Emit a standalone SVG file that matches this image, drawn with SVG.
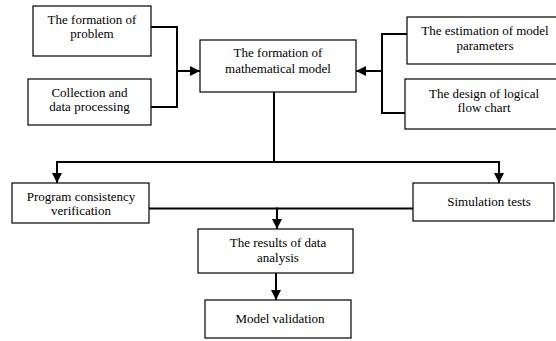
<svg xmlns="http://www.w3.org/2000/svg" width="556" height="341" viewBox="0 0 556 341">
<style>
.box{fill:#fff;stroke:#000;stroke-width:1.2}
.c{fill:none;stroke:#000;stroke-width:2}
</style>
<defs>
<marker id="ah" viewBox="0 0 10 10" refX="10" refY="5" markerWidth="10" markerHeight="10" markerUnits="userSpaceOnUse" orient="auto">
<path d="M0,0 L10,5 L0,10 z" fill="#000"/>
</marker>
</defs>
<rect width="556" height="341" fill="#fff"/>
<g id="connectors">
<polyline class="c" points="151,27 177,27 177,107 151,107"/>
<line class="c" x1="177" y1="71" x2="200" y2="71" marker-end="url(#ah)"/>
<polyline class="c" points="407,34 382,34 382,113 405,113"/>
<line class="c" x1="382" y1="71" x2="356" y2="71" marker-end="url(#ah)"/>
<line class="c" x1="274" y1="92" x2="274" y2="162"/>
<polyline class="c" points="57,162 499,162"/>
<line class="c" x1="57" y1="161" x2="57" y2="183" marker-end="url(#ah)"/>
<line class="c" x1="499" y1="161" x2="499" y2="183" marker-end="url(#ah)"/>
<line class="c" x1="149" y1="208.5" x2="413" y2="208.5"/>
<line class="c" x1="277" y1="207.5" x2="277" y2="229" marker-end="url(#ah)"/>
<line class="c" x1="276" y1="273" x2="276" y2="300" marker-end="url(#ah)"/>
</g>
<g font-family="Liberation Serif, Times New Roman, Times, serif" font-size="13" text-anchor="middle" fill="#000">
<g id="n1"><rect class="box" x="33" y="6" width="118" height="50"/><text x="92" y="24">The formation of</text><text x="92" y="38">problem</text></g>
<g id="n2"><rect class="box" x="28" y="79" width="123" height="46"/><text x="89.5" y="97">Collection and</text><text x="89.5" y="111">data processing</text></g>
<g id="n3"><rect class="box" x="200" y="40" width="156" height="52"/><text x="278" y="57">The formation of</text><text x="278" y="73">mathematical model</text></g>
<g id="n4"><rect class="box" x="407" y="17" width="152" height="47"/><text x="485" y="35">The estimation of model</text><text x="485" y="50">parameters</text></g>
<g id="n5"><rect class="box" x="405" y="79" width="154" height="50"/><text x="484" y="98">The design of logical</text><text x="484" y="112">flow chart</text></g>
<g id="n6"><rect class="box" x="12" y="183" width="137" height="40"/><text x="81" y="201">Program consistency</text><text x="81" y="215">verification</text></g>
<g id="n7"><rect class="box" x="413" y="183" width="141" height="38"/><text x="489" y="206">Simulation tests</text></g>
<g id="n8"><rect class="box" x="198" y="229" width="155" height="44"/><text x="278" y="247">The results of data</text><text x="278" y="262">analysis</text></g>
<g id="n9"><rect class="box" x="205" y="300" width="146" height="38"/><text x="280" y="323">Model validation</text></g>
</g>
</svg>
